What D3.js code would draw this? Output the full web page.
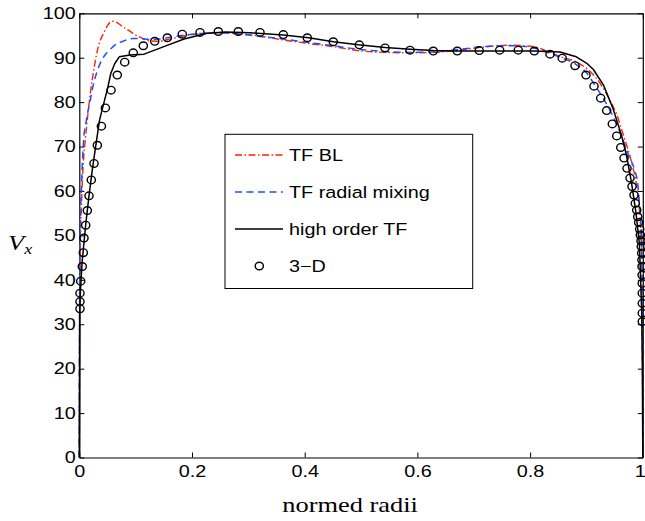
<!DOCTYPE html>
<html>
<head>
<meta charset="utf-8">
<script src="https://cdn.jsdelivr.net/npm/d3@7"></script>
<style>
  html, body { margin: 0; padding: 0; background: #fff; }
  svg { display: block; }
</style>
</head>
<body>
<svg id="chart" width="645" height="521"></svg>
<script>
// Axial velocity profiles across the normed radius
const xTicks = [0, 0.2, 0.4, 0.6, 0.8, 1];
const xTickLabels = ["0", "0.2", "0.4", "0.6", "0.8", "1"];
const yTicks = [0, 10, 20, 30, 40, 50, 60, 70, 80, 90, 100];

const seriesNames = ["TF BL", "TF radial mixing", "high order TF", "3\u2212D"];

// TF BL
const blR = [0, 0.0005, 0.0015, 0.003, 0.005, 0.0075, 0.0106, 0.015, 0.0195, 0.026, 0.031, 0.037, 0.043, 0.049, 0.055, 0.061, 0.067, 0.077, 0.087, 0.099, 0.111, 0.125, 0.140, 0.157, 0.190, 0.245, 0.300, 0.362, 0.407, 0.451, 0.495, 0.543, 0.587, 0.628, 0.670, 0.717, 0.764, 0.806, 0.835, 0.859, 0.878, 0.900, 0.915, 0.930, 0.945, 0.954, 0.964, 0.974, 0.982, 0.988, 0.993, 0.997, 0.999, 1];
const blV = [0, 30, 45, 53, 61, 67, 71.5, 77, 82, 87.5, 91, 93.8, 95.5, 97, 98, 98.2, 97.9, 97, 96.2, 95.2, 94.4, 93.8, 93.7, 94.1, 95, 95.6, 95.2, 94.0, 93.2, 92.5, 91.6, 91.2, 91.1, 91.2, 91.6, 92.4, 92.8, 92.5, 91.2, 90.0, 89.3, 87.6, 85.8, 83.1, 79.6, 77.1, 73.2, 69.2, 65.5, 62, 57, 49, 38, 0];

// TF radial mixing
const rmR = [0, 0.0005, 0.0015, 0.004, 0.0077, 0.012, 0.0195, 0.025, 0.031, 0.040, 0.050, 0.055, 0.065, 0.079, 0.095, 0.108, 0.125, 0.140, 0.170, 0.200, 0.250, 0.300, 0.362, 0.407, 0.451, 0.495, 0.543, 0.587, 0.628, 0.670, 0.717, 0.764, 0.806, 0.835, 0.859, 0.880, 0.900, 0.915, 0.930, 0.945, 0.955, 0.964, 0.975, 0.986, 0.991, 0.994, 0.997, 0.999, 1];
const rmV = [0, 35, 50, 61.5, 71.5, 75.5, 80.5, 84, 86.7, 89.5, 91.3, 91.9, 93, 93.8, 94.3, 94.3, 94.1, 94.2, 94.8, 95.3, 95.6, 95.1, 94.2, 93.4, 92.7, 91.9, 91.4, 91.2, 91.3, 91.8, 92.5, 92.7, 92.2, 91.0, 89.8, 88.6, 86.6, 83.8, 80.8, 77.3, 74.6, 71.8, 68.0, 64.5, 61.7, 57.2, 52, 40, 0];

// high order TF
const hoR = [0, 0.0008, 0.002, 0.005, 0.011, 0.017, 0.023, 0.029, 0.036, 0.045, 0.050, 0.056, 0.063, 0.071, 0.090, 0.115, 0.150, 0.186, 0.227, 0.260, 0.303, 0.362, 0.407, 0.451, 0.495, 0.543, 0.587, 0.628, 0.670, 0.806, 0.853, 0.882, 0.900, 0.912, 0.930, 0.947, 0.962, 0.971, 0.980, 0.988, 0.994, 0.998, 0.9993, 1];
const hoV = [0, 33, 37.5, 44, 52, 58.7, 64.7, 70, 76, 80.5, 83, 86.5, 88.7, 90.2, 90.6, 90.8, 92.5, 94.2, 95.5, 95.8, 95.6, 95.1, 94.5, 93.6, 92.9, 92.3, 91.9, 91.6, 91.5, 91.5, 91.3, 90.2, 88.8, 87.4, 83.9, 78.6, 72.6, 68.1, 61.8, 55, 48, 33, 20, 0];

// 3-D simulation samples
const tdR = [0.0012, 0.0012, 0.0012, 0.0025, 0.0053, 0.0071, 0.0083, 0.0114, 0.0142, 0.0172, 0.0213, 0.0261, 0.032, 0.0392, 0.0463, 0.0563, 0.0674, 0.0806, 0.0958, 0.1136, 0.1338, 0.1562, 0.1828, 0.2142, 0.2467, 0.2822, 0.3207, 0.362, 0.4046, 0.4507, 0.4969, 0.5425, 0.5869, 0.6282, 0.6708, 0.7098, 0.746, 0.779, 0.8075, 0.8354, 0.857, 0.8797, 0.8992, 0.9134, 0.9253, 0.9359, 0.9459, 0.9538, 0.9609, 0.9667, 0.972, 0.9773, 0.9809, 0.9844, 0.9867, 0.9892, 0.991, 0.9927, 0.9945, 0.9956, 0.9968, 0.9973, 0.998, 0.9984, 0.9986, 0.9988, 0.999, 0.999, 0.9991, 0.9991, 0.9991];
const tdV = [33.5, 35.1, 37.0, 39.7, 43.0, 46.1, 49.4, 52.3, 55.6, 58.9, 62.5, 66.2, 70.3, 74.6, 78.7, 82.7, 86.1, 89.0, 91.1, 92.7, 93.7, 94.5, 95.3, 95.7, 95.9, 95.9, 95.7, 95.2, 94.5, 93.6, 92.9, 92.2, 91.7, 91.5, 91.5, 91.6, 91.7, 91.7, 91.5, 90.8, 89.9, 88.2, 86.1, 83.6, 80.9, 78.1, 75.1, 72.4, 69.8, 67.4, 65.1, 62.9, 61.0, 59.1, 57.2, 55.7, 54.2, 52.9, 51.4, 50.1, 48.8, 47.5, 46.0, 44.5, 43.0, 41.1, 39.2, 37.0, 34.7, 32.5, 30.6];

const zip = (a, b) => a.map((v, i) => [v, b[i]]);

// ---- layout ----
const plot = { left: 79.3, right: 642.8, top: 13.3, bottom: 457.5 };
const SX = 1.2; // horizontal text stretch
const sansFont = "'Liberation Sans', Arial, Helvetica, sans-serif";
const serifFont = "'Liberation Serif', 'Times New Roman', Times, serif";

const svg = d3.select("#chart");
const x = d3.scaleLinear().domain([0, 1]).range([plot.left, plot.right]);
const y = d3.scaleLinear().domain([0, 100]).range([plot.bottom, plot.top]);

// ---- axes (inward ticks on all four sides) ----
function styleAxis(g) {
  g.select(".domain").attr("stroke", "#000").attr("stroke-width", 1.2);
  g.selectAll(".tick line").attr("stroke", "#000").attr("stroke-width", 1);
}

const gLeft = svg.append("g")
  .attr("transform", `translate(${plot.left},0)`)
  .call(d3.axisLeft(y).tickValues(yTicks).tickSizeInner(-5).tickSizeOuter(0).tickPadding(3));
styleAxis(gLeft);
gLeft.selectAll(".tick text")
  .attr("font-family", sansFont).attr("font-size", 16.5).attr("fill", "#000")
  .attr("transform", `scale(${SX},1)`);

const gBottom = svg.append("g")
  .attr("transform", `translate(0,${plot.bottom})`)
  .call(d3.axisBottom(x).tickValues(xTicks).tickFormat((d, i) => xTickLabels[i])
    .tickSizeInner(-5).tickSizeOuter(0).tickPadding(8));
styleAxis(gBottom);
gBottom.selectAll(".tick text")
  .attr("font-family", sansFont).attr("font-size", 16.5).attr("fill", "#000")
  .attr("transform", `scale(${SX},1)`);
// keep the last label inside the canvas edge
gBottom.selectAll(".tick text").filter(d => d === 1).attr("x", -2.5);

const gRight = svg.append("g")
  .attr("transform", `translate(${plot.right},0)`)
  .call(d3.axisRight(y).tickValues(yTicks).tickSizeInner(-5).tickSizeOuter(0).tickFormat(""));
styleAxis(gRight);

const gTop = svg.append("g")
  .attr("transform", `translate(0,${plot.top})`)
  .call(d3.axisTop(x).tickValues(xTicks).tickSizeInner(-5).tickSizeOuter(0).tickFormat(""));
styleAxis(gTop);

// ---- axis titles ----
svg.append("text")
  .attr("transform", `translate(${x(0.5) - 11},512) scale(${SX},1)`)
  .attr("text-anchor", "middle")
  .attr("font-family", serifFont).attr("font-size", 22).attr("fill", "#000")
  .text("normed radii");

const yl = svg.append("text")
  .attr("transform", `translate(8,250) scale(${SX},1)`)
  .attr("font-family", serifFont).attr("font-size", 22).attr("font-style", "italic").attr("fill", "#000");
yl.append("tspan").text("V");
yl.append("tspan").attr("font-size", 15).attr("dy", 4).text("x");

// ---- series ----
const lineMono = d3.line().x(d => x(d[0])).y(d => y(d[1])).curve(d3.curveMonotoneX);
const lineLin = d3.line().x(d => x(d[0])).y(d => y(d[1]));

const styles = {
  bl: { color: "#ff2200", dash: "7,2.5,1.5,2.5", width: 1.4 },
  rm: { color: "#1f4dff", dash: "7,4.5", width: 1.5 },
  ho: { color: "#000", dash: null, width: 1.5 }
};

svg.append("path").datum(zip(blR, blV)).attr("d", lineMono)
  .attr("fill", "none").attr("stroke", styles.bl.color)
  .attr("stroke-width", styles.bl.width).attr("stroke-dasharray", styles.bl.dash);

svg.append("path").datum(zip(rmR, rmV)).attr("d", lineMono)
  .attr("fill", "none").attr("stroke", styles.rm.color)
  .attr("stroke-width", styles.rm.width).attr("stroke-dasharray", styles.rm.dash);

svg.append("path").datum(zip(hoR, hoV)).attr("d", lineLin)
  .attr("fill", "none").attr("stroke", styles.ho.color)
  .attr("stroke-width", styles.ho.width).attr("stroke-linejoin", "round");

svg.append("g").selectAll("ellipse").data(zip(tdR, tdV)).join("ellipse")
  .attr("cx", d => x(d[0])).attr("cy", d => y(d[1]))
  .attr("rx", 4.1).attr("ry", 3.8)
  .attr("fill", "none").attr("stroke", "#000").attr("stroke-width", 1.4);

// ---- legend ----
const leg = { x0: 225, y0: 134.3, x1: 472.7, y1: 288.5 };
const lg = svg.append("g");
lg.append("rect")
  .attr("x", leg.x0).attr("y", leg.y0)
  .attr("width", leg.x1 - leg.x0).attr("height", leg.y1 - leg.y0)
  .attr("fill", "#fff").attr("stroke", "#000").attr("stroke-width", 1);

const rowY = [155, 192, 229, 266];
const legendStyles = [styles.bl, styles.rm, styles.ho];
legendStyles.forEach((s, i) => {
  lg.append("line")
    .attr("x1", 235).attr("x2", 283).attr("y1", rowY[i]).attr("y2", rowY[i])
    .attr("stroke", s.color).attr("stroke-width", s.width)
    .attr("stroke-dasharray", s.dash);
});
lg.append("ellipse").attr("cx", 259.3).attr("cy", rowY[3])
  .attr("rx", 4.1).attr("ry", 3.8)
  .attr("fill", "none").attr("stroke", "#000").attr("stroke-width", 1.4);

seriesNames.forEach((name, i) => {
  lg.append("text")
    .attr("transform", `translate(289,${rowY[i] + 6}) scale(${SX},1)`)
    .attr("font-family", sansFont).attr("font-size", 16.5).attr("fill", "#000")
    .text(name);
});
</script>
</body>
</html>
